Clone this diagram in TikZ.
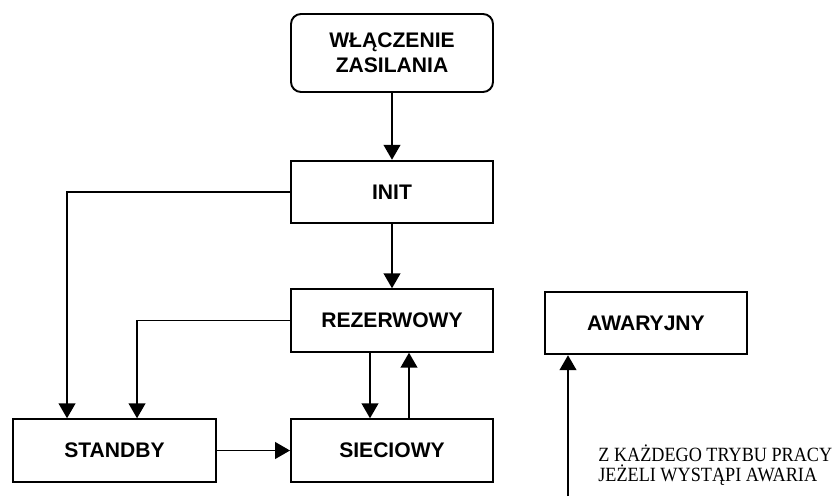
\documentclass[tikz,border=0pt]{standalone}
\usepackage{fontspec}
\setmainfont{Liberation Serif}
\setsansfont{Liberation Sans}
\newfontfamily\notefont[FakeStretch=0.9]{Liberation Serif}
\usetikzlibrary{arrows.meta,calc}
\tikzset{
  box/.style={draw,line width=1.1pt,minimum width=4.04cm,minimum height=1.25cm,inner sep=0pt,align=center,font=\sffamily\bfseries\fontsize{12}{14.2}\selectfont},
  arr/.style={line width=1.1pt,-{Triangle[length=8.5pt,width=9.5pt]}}
}
\begin{document}
\begin{tikzpicture}
    \useasboundingbox (0,0) rectangle (16.74,9.92);
    \node[box,rounded corners=0.2cm,minimum height=1.56cm] (ON) at (7.84,8.86) {WŁĄCZENIE\\ZASILANIA};
    \node[box] (INIT) at (7.84,6.08) {INIT};
    \node[box] (REZ) at (7.84,3.51) {REZERWOWY};
    \node[box] (AWA) at (12.92,3.46) {AWARYJNY};
    \node[box,minimum width=4.06cm] (STB) at (2.29,0.91) {STANDBY};
    \node[box] (SIE) at (7.84,0.91) {SIECIOWY};
    \node[anchor=base west,align=left,inner sep=0pt,font=\notefont\fontsize{11.5}{11.3}\selectfont] (TXT) at (11.96,0.30) {Z KAŻDEGO TRYBU PRACY\\JEŻELI WYSTĄPI AWARIA};
    \coordinate (FROM) at (11.36,0);

    \draw[arr] (ON) -- (INIT);
    \draw[arr] (INIT) -- (REZ);
    \draw[arr] (INIT.west) -| ($(STB.north west)+(1.1,0)$);
    \draw[arr] (REZ.west) -| ($(STB.north west)+(2.5,0)$);
    \draw[arr] ([xshift=-0.44cm]REZ.south) -- ([xshift=-0.44cm]SIE.north);
    \draw[arr] ([xshift=0.34cm]SIE.north) -- ([xshift=0.34cm]REZ.south);
    \draw[arr] (STB) -- (SIE);
    \draw[arr] (FROM) -- (FROM |- AWA.south);
  \end{tikzpicture}
\end{document}
